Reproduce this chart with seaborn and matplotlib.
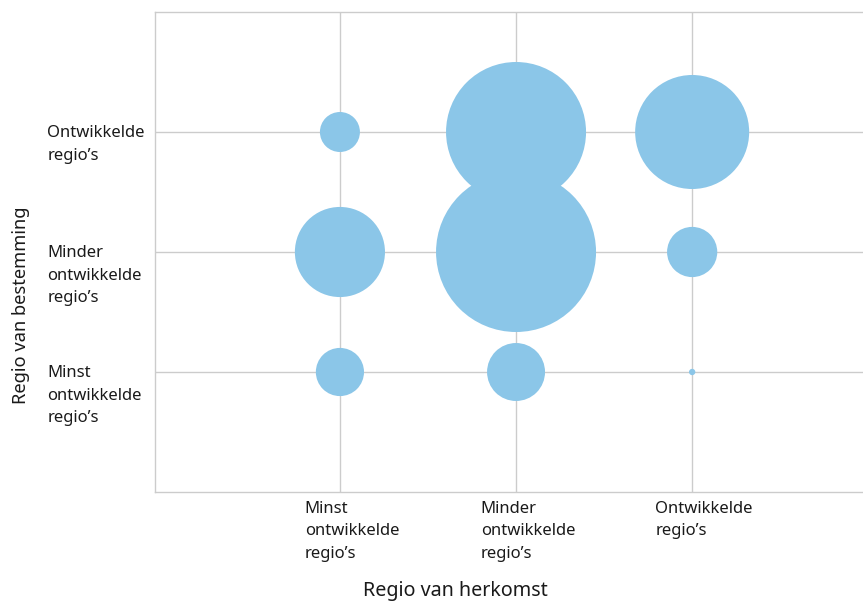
import matplotlib
matplotlib.use("Agg")
import matplotlib.pyplot as plt
import matplotlib.transforms as mtransforms
import seaborn as sns
import pandas as pd

origin = ["Minst\nontwikkelde\nregio’s", "Minder\nontwikkelde\nregio’s", "Ontwikkelde\nregio’s"]
destination = ["Minst\nontwikkelde\nregio’s", "Minder\nontwikkelde\nregio’s", "Ontwikkelde\nregio’s"]

# values (millions of migrants)
orig_idx = [0, 1, 2, 0, 1, 2, 0, 1, 2]
dest_idx = [2, 2, 2, 1, 1, 1, 0, 0, 0]
values = [4.0, 49.0, 32.5, 20.3, 64.0, 6.3, 5.8, 8.4, 0.1]

df = pd.DataFrame({"x": orig_idx, "y": dest_idx, "v": values})

sns.set_style("white")
plt.rcParams["font.family"] = ["Noto Sans", "DejaVu Sans"]

fig = plt.figure(figsize=(8.63, 6.01), dpi=100)
ax = fig.add_axes([155/863, 1 - 492/601, (863-155)/863, (492-12)/601])

max_s = (1.44 * 80) ** 2
sns.scatterplot(data=df, x="x", y="y", size="v", sizes=(0, max_s), size_norm=(0, 64),
                color="#8bc6e8", edgecolor="none", linewidth=0, alpha=1,
                legend=False, ax=ax, zorder=3)

ax.set_xlim(-1.05, 2.97)
ax.set_ylim(-1, 3)
ax.set_xticks([0, 1, 2])
ax.set_yticks([0, 1, 2])
ax.grid(True, color="#cccccc", linewidth=1)
ax.set_axisbelow(True)
for side in ["left", "bottom", "top"]:
    ax.spines[side].set_color("#cccccc")
    ax.spines[side].set_linewidth(1)
ax.spines["right"].set_visible(False)
ax.tick_params(length=0)

txt = "#1a1a1a"
ax.set_xticklabels(origin, fontsize=12, color=txt, ha="center", multialignment="left",
                   linespacing=1.55, va="top")
ax.set_yticklabels(destination, fontsize=12, color=txt, ha="left", va="top", linespacing=1.55)
for lab in ax.get_xticklabels():
    lab.set_transform(lab.get_transform() + mtransforms.ScaledTranslation(12/100, -4/100, fig.dpi_scale_trans))
for lab in ax.get_yticklabels():
    lab.set_transform(lab.get_transform() + mtransforms.ScaledTranslation(-103/100, 7/100, fig.dpi_scale_trans))

ax.set_xlabel("Regio van herkomst", fontsize=14.2, color=txt)
ax.set_ylabel("Regio van bestemming", fontsize=13.2, color=txt)
ax.xaxis.set_label_coords((455-155)/708, -(591-492)/480)
ax.yaxis.set_label_coords((21-155)/708, (492-305)/480)
ax.xaxis.label.set_va("center")
ax.yaxis.label.set_va("center")

fig.savefig("out.png", dpi=100)
